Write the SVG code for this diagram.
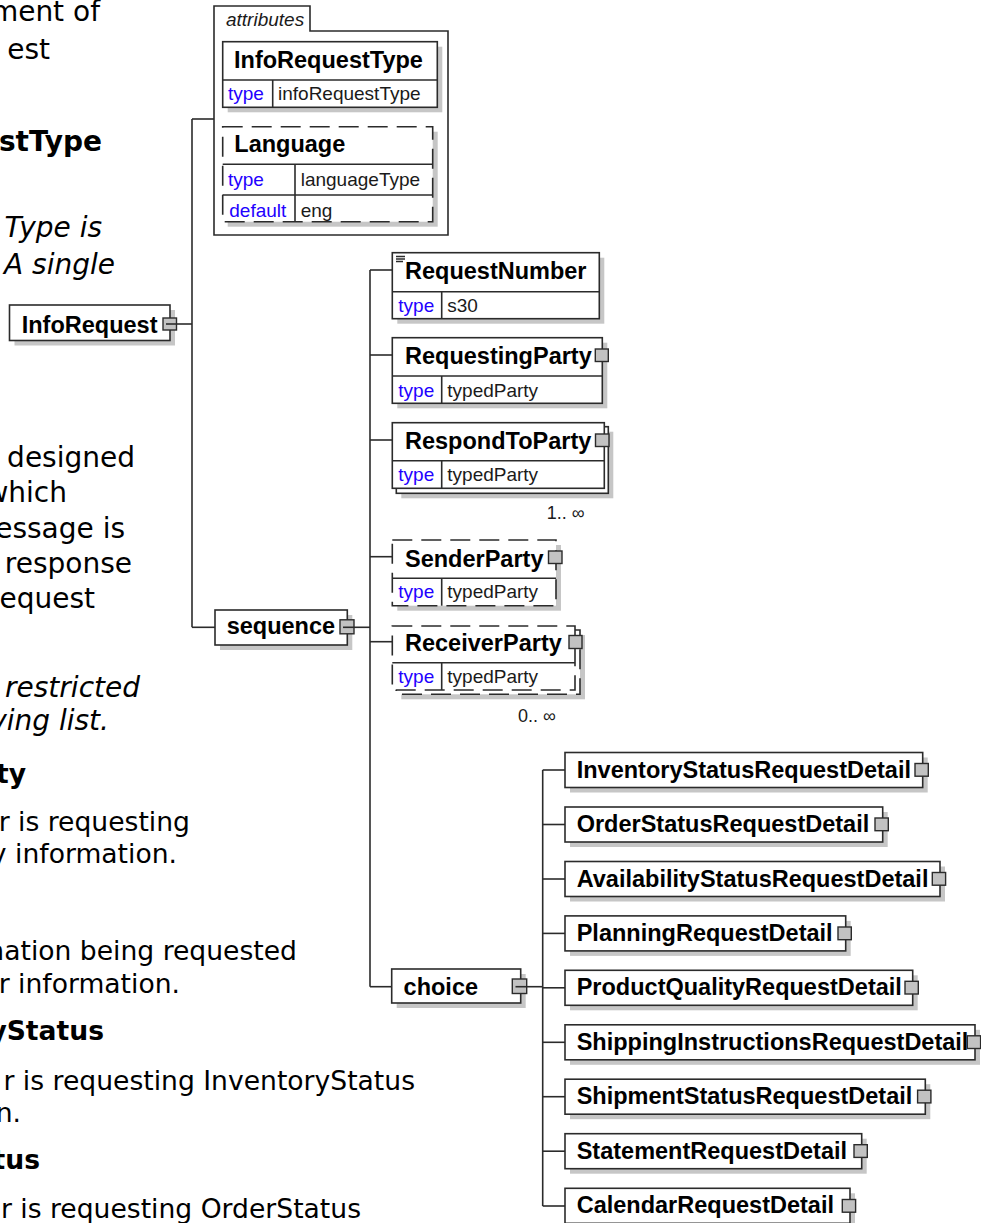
<svg xmlns="http://www.w3.org/2000/svg" width="981" height="1223" viewBox="0 0 981 1223">
<style>
.doc{font-family:"DejaVu Sans","Verdana",sans-serif;font-size:28px;fill:#000;text-anchor:end}
.doc2{font-family:"DejaVu Sans","Verdana",sans-serif;font-size:26.6px;fill:#000;text-anchor:end}
.b{font-weight:bold}
.i{font-style:italic}
.ln{stroke:#2b2b2b;stroke-width:1.6;fill:none}
.box{fill:#fff;stroke:#2b2b2b;stroke-width:1.6}
.dbox{fill:#fff;stroke:#2b2b2b;stroke-width:1.6;stroke-dasharray:20 9}
.sh{fill:#c6c6c6}
.pb{fill:#c2c2c2;stroke:#2b2b2b;stroke-width:1.4}
.nm{font-family:"Liberation Sans",Arial,sans-serif;font-weight:bold;font-size:23.5px;fill:#000}
.k{font-family:"Liberation Sans",Arial,sans-serif;font-size:19px;fill:#2200ff}
.v{font-family:"Liberation Sans",Arial,sans-serif;font-size:19px;fill:#1a1a1a}
.att{font-family:"Liberation Sans",Arial,sans-serif;font-size:19px;font-style:italic;fill:#1a1a1a}
.occ{font-family:"Liberation Sans",Arial,sans-serif;font-size:18px;fill:#1a1a1a}
</style>
<rect width="981" height="1223" fill="#fff"/>

<g id="doc-text">
<text class="doc" x="100" y="21" font-size="32">ment of</text>
<text class="doc" x="50" y="59" font-size="32">est</text>
<text class="doc b" x="102" y="151" font-size="29">stType</text>
<text class="doc i" x="102" y="237">Type is</text>
<text class="doc i" x="115" y="274">A single</text>
<text class="doc" x="135" y="467">designed</text>
<text class="doc" x="67" y="502">which</text>
<text class="doc" x="125" y="538">essage is</text>
<text class="doc" x="132" y="573">response</text>
<text class="doc" x="95" y="608">equest</text>
<text class="doc i" x="140" y="697">restricted</text>
<text class="doc i" x="109" y="730">ving list.</text>
<text class="doc2 b" x="26" y="783">ty</text>
<text class="doc2" x="190" y="831">r is requesting</text>
<text class="doc2" x="177" y="863">y information.</text>
<text class="doc2" x="297" y="960">nation being requested</text>
<text class="doc2" x="180" y="993">r information.</text>
<text class="doc2 b" x="104" y="1040">yStatus</text>
<text class="doc2" x="415" y="1090">r is requesting InventoryStatus</text>
<text class="doc2" x="21" y="1122">n.</text>
<text class="doc2 b" x="40" y="1169">tus</text>
<text class="doc2" x="361" y="1218">r is requesting OrderStatus</text>
</g>

<g id="connectors">
<line class="ln" x1="176.5" y1="324" x2="192" y2="324"/>
<line class="ln" x1="192" y1="119" x2="192" y2="627.3"/>
<line class="ln" x1="192" y1="119" x2="214" y2="119"/>
<line class="ln" x1="192" y1="627.3" x2="215" y2="627.3"/>
<line class="ln" x1="354" y1="627.3" x2="370" y2="627.3"/>
<line class="ln" x1="370" y1="270" x2="370" y2="986.7"/>
<line class="ln" x1="370" y1="270" x2="392.3" y2="270"/>
<line class="ln" x1="370" y1="355" x2="392.3" y2="355"/>
<line class="ln" x1="370" y1="440" x2="392.3" y2="440"/>
<line class="ln" x1="370" y1="556.7" x2="392.3" y2="556.7"/>
<line class="ln" x1="370" y1="641.7" x2="392.3" y2="641.7"/>
<line class="ln" x1="370" y1="986.7" x2="391.7" y2="986.7"/>
<line class="ln" x1="526.7" y1="986.7" x2="542.7" y2="986.7"/>
<line class="ln" x1="542.7" y1="770" x2="542.7" y2="1206"/>
<line class="ln" x1="542.7" y1="770" x2="565" y2="770"/>
<line class="ln" x1="542.7" y1="824.5" x2="565" y2="824.5"/>
<line class="ln" x1="542.7" y1="879" x2="565" y2="879"/>
<line class="ln" x1="542.7" y1="933.4" x2="565" y2="933.4"/>
<line class="ln" x1="542.7" y1="987.8" x2="565" y2="987.8"/>
<line class="ln" x1="542.7" y1="1042.3" x2="565" y2="1042.3"/>
<line class="ln" x1="542.7" y1="1096.7" x2="565" y2="1096.7"/>
<line class="ln" x1="542.7" y1="1151.2" x2="565" y2="1151.2"/>
<line class="ln" x1="542.7" y1="1206" x2="565" y2="1206"/>
</g>

<g id="InfoRequest">
<rect class="sh" x="14.5" y="310" width="160.5" height="35.5"/>
<rect class="box" x="9.5" y="305" width="160.5" height="35.5"/>
<text class="nm" x="21.7" y="333">InfoRequest</text>
<rect class="pb" x="163" y="318" width="13.5" height="12"/>
<line class="ln" x1="166" y1="324" x2="176.5" y2="324" stroke-width="1.2"/>
</g>

<g id="attributes">
<path class="box" d="M214,235 V6 H310 V31 H448 V235 Z"/>
<text class="att" x="226" y="26">attributes</text>
</g>

<g id="attr-InfoRequestType">
<rect class="sh" x="227.7" y="46.7" width="214.6" height="65.6"/>
<rect class="box" x="222.7" y="41.7" width="214.6" height="65.6"/>
<line class="ln" x1="222.7" y1="80" x2="437.3" y2="80"/>
<line class="ln" x1="272.7" y1="80" x2="272.7" y2="107.3"/>
<text class="nm" x="234" y="67.7">InfoRequestType</text>
<text class="k" x="228" y="100">type</text>
<text class="v" x="278" y="100">infoRequestType</text>
</g>

<g id="attr-Language">
<rect class="sh" x="227.7" y="131.7" width="210" height="95"/>
<rect class="dbox" x="222.7" y="126.7" width="210" height="95"/>
<line class="ln" x1="222.7" y1="164.3" x2="432.7" y2="164.3"/>
<line class="ln" x1="222.7" y1="195" x2="432.7" y2="195"/>
<line class="ln" x1="295" y1="164.3" x2="295" y2="221.7"/>
<text class="nm" x="234.3" y="151.7">Language</text>
<text class="k" x="228" y="186">type</text>
<text class="v" x="300.7" y="186">languageType</text>
<text class="k" x="229.3" y="216.7">default</text>
<text class="v" x="300.7" y="216.7">eng</text>
</g>

<g id="sequence">
<rect class="sh" x="220" y="615" width="132.3" height="35"/>
<rect class="box" x="215" y="610" width="132.3" height="35"/>
<text class="nm" x="226.7" y="634.3">sequence</text>
<rect class="pb" x="340" y="619.8" width="14" height="14"/>
<line class="ln" x1="343" y1="627.3" x2="354" y2="627.3" stroke-width="1.2"/>
</g>

<g id="RequestNumber">
<rect class="sh" x="397.3" y="257.7" width="207" height="66"/>
<rect class="box" x="392.3" y="252.7" width="207" height="66"/>
<line class="ln" x1="392.3" y1="291.7" x2="599.3" y2="291.7"/>
<line class="ln" x1="441.7" y1="291.7" x2="441.7" y2="318.7"/>
<path class="ln" d="M396,256.5 H405 M396,259 H405 M396,261.5 H403" stroke-width="1"/>
<text class="nm" x="405" y="279">RequestNumber</text>
<text class="k" x="398.3" y="311.7">type</text>
<text class="v" x="447.3" y="311.7">s30</text>
</g>

<g id="RequestingParty">
<rect class="sh" x="397.3" y="342.7" width="210" height="65.6"/>
<rect class="box" x="392.3" y="337.7" width="210" height="65.6"/>
<line class="ln" x1="392.3" y1="376" x2="602.3" y2="376"/>
<line class="ln" x1="441.7" y1="376" x2="441.7" y2="403.3"/>
<text class="nm" x="405" y="364.3">RequestingParty</text>
<rect class="pb" x="595.3" y="349" width="13" height="12.5"/>
<text class="k" x="398.3" y="396.7">type</text>
<text class="v" x="447.3" y="396.7">typedParty</text>
</g>

<g id="RespondToParty">
<rect class="sh" x="401.3" y="431.7" width="212" height="66.6"/>
<rect class="box" x="396.3" y="426.7" width="212" height="66.6"/>
<rect class="box" x="392.3" y="422.7" width="212" height="65.6"/>
<line class="ln" x1="392.3" y1="460.7" x2="604.3" y2="460.7"/>
<line class="ln" x1="441.7" y1="460.7" x2="441.7" y2="488.3"/>
<text class="nm" x="405" y="449.3">RespondToParty</text>
<rect class="pb" x="595.5" y="434" width="13.5" height="12.5"/>
<text class="k" x="398.3" y="480.7">type</text>
<text class="v" x="447.3" y="480.7">typedParty</text>
<text class="occ" x="546.7" y="519.3">1.. ∞</text>
</g>

<g id="SenderParty">
<rect class="sh" x="397.3" y="545" width="163.7" height="65.7"/>
<rect class="dbox" x="392.3" y="540" width="163.7" height="65.7"/>
<line class="ln" x1="392.3" y1="578.3" x2="556" y2="578.3"/>
<line class="ln" x1="441.7" y1="578.3" x2="441.7" y2="605.7"/>
<text class="nm" x="405" y="566.7">SenderParty</text>
<rect class="pb" x="548.5" y="551" width="13.5" height="12.5"/>
<text class="k" x="398.3" y="598.3">type</text>
<text class="v" x="447.3" y="598.3">typedParty</text>
</g>

<g id="ReceiverParty">
<rect class="sh" x="401.3" y="635" width="183.7" height="64.3"/>
<rect class="dbox" x="396.3" y="630" width="183.7" height="64.3"/>
<rect class="dbox" x="392.3" y="626" width="182.7" height="64"/>
<line class="ln" x1="392.3" y1="662.7" x2="575" y2="662.7"/>
<line class="ln" x1="441.7" y1="662.7" x2="441.7" y2="690"/>
<text class="nm" x="405" y="650.7">ReceiverParty</text>
<rect class="pb" x="569" y="635.5" width="13" height="13"/>
<text class="k" x="398.3" y="682.7">type</text>
<text class="v" x="447.3" y="682.7">typedParty</text>
<text class="occ" x="518" y="722">0.. ∞</text>
</g>

<g id="choice">
<rect class="sh" x="396.7" y="974" width="129" height="34"/>
<rect class="box" x="391.7" y="969" width="129" height="34"/>
<text class="nm" x="403.6" y="995">choice</text>
<rect class="pb" x="512.3" y="979" width="14.4" height="14.5"/>
<line class="ln" x1="515.5" y1="986.7" x2="526.7" y2="986.7" stroke-width="1.2"/>
</g>

<g id="InventoryStatusRequestDetail">
<rect class="sh" x="570" y="757.5" width="357.7" height="35"/>
<rect class="box" x="565" y="752.5" width="357.7" height="35"/>
<text class="nm" x="576.7" y="777.5">InventoryStatusRequestDetail</text>
<rect class="pb" x="915" y="763.5" width="13.3" height="12.7"/>
</g>
<g id="OrderStatusRequestDetail">
<rect class="sh" x="570" y="812" width="317.7" height="35"/>
<rect class="box" x="565" y="807" width="317.7" height="35"/>
<text class="nm" x="576.7" y="832">OrderStatusRequestDetail</text>
<rect class="pb" x="875" y="818" width="13.3" height="12.7"/>
</g>
<g id="AvailabilityStatusRequestDetail">
<rect class="sh" x="570" y="866.5" width="375" height="35"/>
<rect class="box" x="565" y="861.5" width="375" height="35"/>
<text class="nm" x="576.7" y="886.5">AvailabilityStatusRequestDetail</text>
<rect class="pb" x="932.3" y="872.5" width="13.3" height="12.7"/>
</g>
<g id="PlanningRequestDetail">
<rect class="sh" x="570" y="920.9" width="280.7" height="35"/>
<rect class="box" x="565" y="915.9" width="280.7" height="35"/>
<text class="nm" x="576.7" y="940.9">PlanningRequestDetail</text>
<rect class="pb" x="838" y="927" width="13.3" height="12.7"/>
</g>
<g id="ProductQualityRequestDetail">
<rect class="sh" x="570" y="975.3" width="347.7" height="35"/>
<rect class="box" x="565" y="970.3" width="347.7" height="35"/>
<text class="nm" x="576.7" y="995.3">ProductQualityRequestDetail</text>
<rect class="pb" x="905" y="981.3" width="13.3" height="12.7"/>
</g>
<g id="ShippingInstructionsRequestDetail">
<rect class="sh" x="570" y="1029.8" width="410" height="35"/>
<rect class="box" x="565" y="1024.8" width="410" height="35"/>
<text class="nm" x="576.7" y="1049.8">ShippingInstructionsRequestDetail</text>
<rect class="pb" x="967.3" y="1035.8" width="13.3" height="12.7"/>
</g>
<g id="ShipmentStatusRequestDetail">
<rect class="sh" x="570" y="1084.2" width="360.3" height="35"/>
<rect class="box" x="565" y="1079.2" width="360.3" height="35"/>
<text class="nm" x="576.7" y="1104.2">ShipmentStatusRequestDetail</text>
<rect class="pb" x="917.6" y="1090.2" width="13.3" height="12.7"/>
</g>
<g id="StatementRequestDetail">
<rect class="sh" x="570" y="1138.7" width="296.7" height="35"/>
<rect class="box" x="565" y="1133.7" width="296.7" height="35"/>
<text class="nm" x="576.7" y="1158.7">StatementRequestDetail</text>
<rect class="pb" x="854" y="1144.7" width="13.3" height="12.7"/>
</g>
<g id="CalendarRequestDetail">
<rect class="sh" x="570" y="1193.3" width="285" height="35"/>
<rect class="box" x="565" y="1188.3" width="285" height="35"/>
<text class="nm" x="576.7" y="1213.3">CalendarRequestDetail</text>
<rect class="pb" x="842.3" y="1199.5" width="13.3" height="12.7"/>
</g>
</svg>
